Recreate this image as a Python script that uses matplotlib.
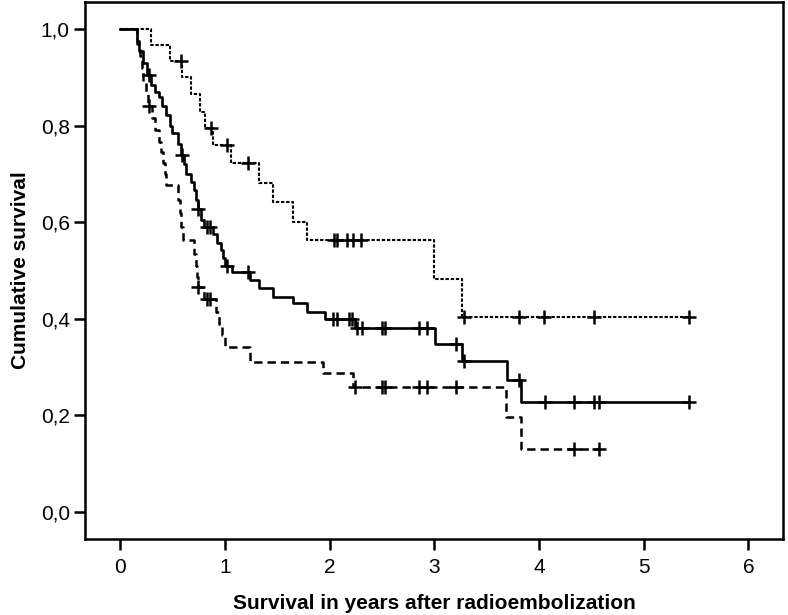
import numpy as np
import matplotlib
matplotlib.use("Agg")
import matplotlib.pyplot as plt

plt.rcParams['font.family'] = ['Liberation Sans', 'DejaVu Sans']
plt.rcParams['lines.scale_dashes'] = False

# dotted group (top curve): event times and survival after each drop
dot_t = [0.0, 0.29, 0.47, 0.585, 0.67, 0.76, 0.81, 0.88, 1.06, 1.32, 1.46, 1.65, 1.78, 3.00, 3.26, 5.43]
dot_s = [1.0, 0.968, 0.934, 0.90, 0.865, 0.829, 0.796, 0.76, 0.722, 0.682, 0.642, 0.601, 0.563, 0.483, 0.403, 0.403]
dot_c = [0.58, 0.87, 1.02, 1.22, 2.04, 2.07, 2.16, 2.22, 2.30, 3.28, 3.81, 4.05, 4.52, 5.43]

# solid group (all patients)
sol_t = [0.0, 0.163, 0.18, 0.22, 0.25, 0.29, 0.33, 0.37, 0.40, 0.44, 0.475, 0.49, 0.55, 0.575,
         0.61, 0.63, 0.67, 0.70, 0.72, 0.74, 0.77, 0.80, 0.88, 0.92, 0.96, 0.985, 1.0, 1.064,
         1.24, 1.32, 1.46, 1.65, 1.78, 1.955, 2.24, 3.006, 3.26, 3.69, 3.83, 5.43]
sol_s = [1.0, 0.975, 0.955, 0.93, 0.905, 0.884, 0.87, 0.86, 0.84, 0.822, 0.80, 0.784, 0.762, 0.74,
         0.72, 0.70, 0.684, 0.667, 0.647, 0.627, 0.605, 0.59, 0.575, 0.556, 0.542, 0.525, 0.51, 0.497,
         0.48, 0.463, 0.446, 0.432, 0.415, 0.399, 0.38, 0.348, 0.312, 0.273, 0.228, 0.228]
sol_c = [0.27, 0.59, 0.745, 0.825, 0.855, 1.016, 1.22, 2.03, 2.07, 2.18, 2.21, 2.26, 2.31, 2.50, 2.53,
         2.85, 2.93, 3.21, 3.28, 3.81, 4.06, 4.33, 4.52, 4.57, 5.43]

# dashed group (bottom curve)
das_t = [0.0, 0.16, 0.19, 0.205, 0.22, 0.24, 0.26, 0.30, 0.33, 0.365, 0.39, 0.41, 0.43, 0.44,
         0.555, 0.57, 0.58, 0.596, 0.70, 0.72, 0.735, 0.74, 0.80, 0.91, 0.94, 0.97, 1.0, 1.24,
         1.94, 2.225, 3.685, 3.83, 4.575]
das_s = [1.0, 0.97, 0.945, 0.92, 0.89, 0.865, 0.84, 0.815, 0.79, 0.767, 0.745, 0.722, 0.70, 0.677,
         0.645, 0.62, 0.59, 0.563, 0.535, 0.51, 0.487, 0.466, 0.442, 0.415, 0.39, 0.366, 0.342, 0.311,
         0.287, 0.259, 0.196, 0.13, 0.13]
das_c = [0.27, 0.745, 0.825, 0.857, 2.24, 2.50, 2.53, 2.85, 2.93, 3.21, 4.33, 4.575]

x_ticks = [0, 1, 2, 3, 4, 5, 6]
y_ticks = [0.0, 0.2, 0.4, 0.6, 0.8, 1.0]


def censor_y(t, s, c):
    t = np.array(t)
    s = np.array(s)
    idx = np.searchsorted(t, np.array(c), side='right') - 1
    return s[idx]


fig = plt.figure(figsize=(7.88, 6.15), dpi=100)
ax = fig.add_axes([0.108, 0.1236, 0.8857, 0.8731])

ax.step(dot_t, dot_s, where='post', color='black', lw=1.5, dashes=(2.4, 1.3))
ax.step(sol_t, sol_s, where='post', color='black', lw=1.9)
ax.step(das_t, das_s, where='post', color='black', lw=1.8, dashes=(6, 3.6))

for t, s, c in [(dot_t, dot_s, dot_c), (sol_t, sol_s, sol_c), (das_t, das_s, das_c)]:
    ax.plot(c, censor_y(t, s, c), ls='none', marker='+', ms=10, mew=1.8, color='black')

ax.set_xlim(-0.337, 6.33)
ax.set_ylim(-0.056, 1.056)
ax.set_xticks(x_ticks)
ax.set_xticklabels([str(v) for v in x_ticks])
ax.set_yticks(y_ticks)
ax.set_yticklabels([f'{v:.1f}'.replace('.', ',') for v in y_ticks])

for sp in ax.spines.values():
    sp.set_linewidth(1.8)
ax.tick_params(axis='both', direction='out', length=8, width=1.8, labelsize=15)
ax.tick_params(axis='x', pad=6)
ax.tick_params(axis='y', pad=3)

ax.set_xlabel('Survival in years after radioembolization', fontsize=15, fontweight='bold', labelpad=12)
ax.set_ylabel('Cumulative survival', fontsize=15, fontweight='bold', labelpad=8)

fig.savefig('out.png', dpi=100)
